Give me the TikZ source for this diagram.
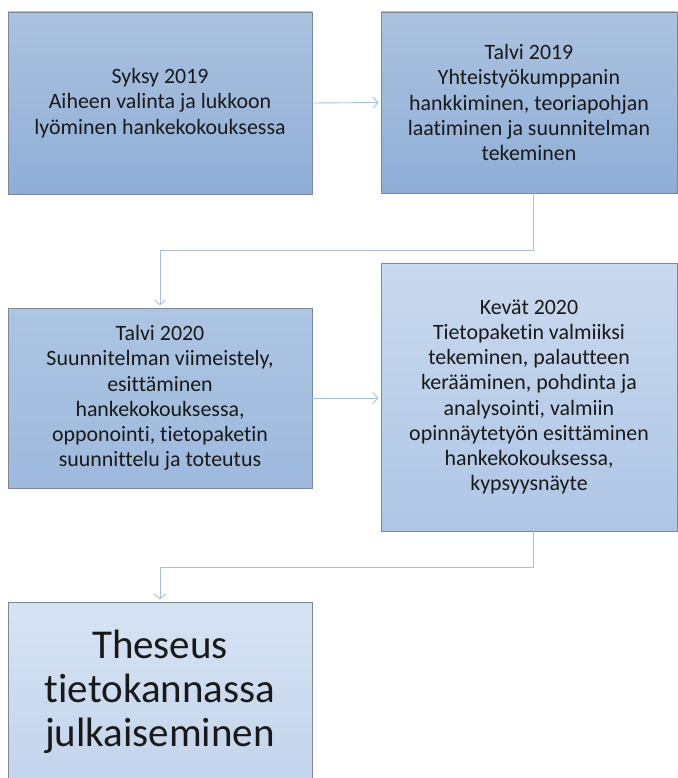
\documentclass[tikz,border=0pt]{standalone}
\usepackage{fontspec}
\setmainfont{Carlito}[Ligatures=NoCommon]
\usetikzlibrary{arrows.meta}
\definecolor{edgegray}{HTML}{7D8896}
\definecolor{connblue}{HTML}{A7C0E0}
\definecolor{aTop}{HTML}{ABC2DF}
\definecolor{aBot}{HTML}{8FAED7}
\definecolor{cTop}{HTML}{ADC5E3}
\definecolor{cBot}{HTML}{9DB9DD}
\definecolor{dTop}{HTML}{C9D9EE}
\definecolor{dBot}{HTML}{AFC6E6}
\definecolor{eTop}{HTML}{D6E3F3}
\definecolor{eBot}{HTML}{C2D4EC}
\begin{document}
\begin{tikzpicture}[x=1pt,y=-1pt,
  stagebox/.style={draw=edgegray, line width=0.9pt, align=center, text=black!90,
    font=\fontsize{21.9}{25.2}\selectfont, inner sep=0pt},
  conn/.style={draw=connblue, line width=0.9pt, -{Straight Barb[length=5pt,width=11pt]}, shorten >=2pt}]
\useasboundingbox (0,0) rectangle (677,778);
\node[stagebox, top color=aTop, bottom color=aBot, minimum width=304, minimum height=182] (b1) at (160,103)
  {Syksy 2019\\Aiheen valinta ja lukkoon\\lyöminen hankekokouksessa};
\node[stagebox, top color=aTop, bottom color=aBot, minimum width=296, minimum height=181] (b2) at (529,102.5)
  {Talvi 2019\\Yhteistyökumppanin\\hankkiminen, teoriapohjan\\laatiminen ja suunnitelman\\tekeminen};
\node[stagebox, top color=cTop, bottom color=cBot, minimum width=304, minimum height=180] (b3) at (160,398)
  {Talvi 2020\\Suunnitelman viimeistely,\\esittäminen\\hankekokouksessa,\\opponointi, tietopaketin\\suunnittelu ja toteutus};
\node[stagebox, top color=dTop, bottom color=dBot, minimum width=296, minimum height=268] (b4) at (529,397)
  {Kevät 2020\\Tietopaketin valmiiksi\\tekeminen, palautteen\\kerääminen, pohdinta ja\\analysointi, valmiin\\opinnäytetyön esittäminen\\hankekokouksessa,\\kypsyysnäyte};
\node[stagebox, top color=eTop, bottom color=eBot, minimum width=304, minimum height=180,
  font=\fontsize{41}{44}\selectfont] (b5) at (160,692)
  {Theseus\\tietokannassa\\julkaiseminen};
\draw[conn] (b1.east) -- (b2.west);
\draw[conn] (b3.east) -- (b3.east -| b4.west);
\draw[conn] ([xshift=4pt]b2.south) -- ++(0,57) -| (b3.north);
\draw[conn] ([xshift=4pt]b4.south) -- ++(0,36) -| (b5.north);
\end{tikzpicture}
\end{document}
